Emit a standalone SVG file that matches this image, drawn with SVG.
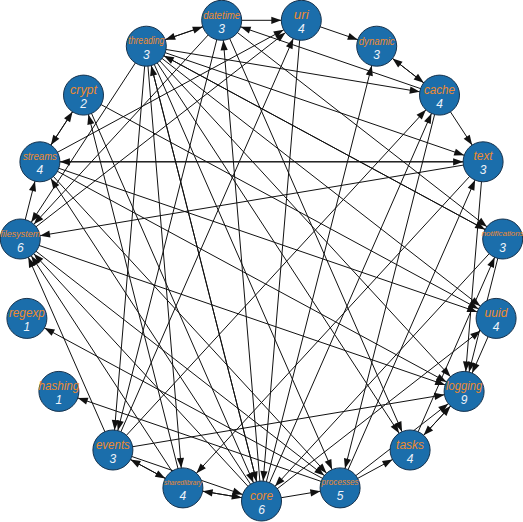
<svg xmlns="http://www.w3.org/2000/svg" width="523" height="522" viewBox="0 0 523 522">
<style>
.e{stroke:#111;stroke-width:1;fill:none;marker-end:url(#ah)}
.n circle{fill:#1b6eab;stroke:#16324d;stroke-width:1}
.nm{font-family:"Liberation Sans",Arial,sans-serif;font-style:italic;fill:#ee8a30;text-anchor:middle;dominant-baseline:central}
.ct{font-family:"Liberation Sans",Arial,sans-serif;font-style:italic;font-size:12px;fill:#eef3fa;text-anchor:middle;dominant-baseline:central}
</style>
<defs>
<marker id="ah" markerUnits="userSpaceOnUse" markerWidth="30" markerHeight="10" viewBox="-30 -5 30 10" refX="0" refY="0" orient="auto" overflow="visible">
<path d="M-20,0 L-30,-3.6 L-30,3.6 Z" fill="#111"/>
</marker>
</defs>
<rect width="523" height="522" fill="#fff"/>
<g id="connectors">
<line class="e" x1="146.3" y1="46.2" x2="221.7" y2="20.3"/>
<line class="e" x1="221.7" y1="20.3" x2="146.3" y2="46.2"/>
<line class="e" x1="221.7" y1="20.3" x2="301.3" y2="20.3"/>
<line class="e" x1="301.3" y1="20.3" x2="376.7" y2="46.2"/>
<line class="e" x1="376.7" y1="46.2" x2="439.5" y2="95.1"/>
<line class="e" x1="439.5" y1="95.1" x2="376.7" y2="46.2"/>
<line class="e" x1="146.3" y1="46.2" x2="439.5" y2="95.1"/>
<line class="e" x1="439.5" y1="95.1" x2="221.7" y2="20.3"/>
<line class="e" x1="146.3" y1="46.2" x2="483.1" y2="161.8"/>
<line class="e" x1="39.9" y1="161.8" x2="483.1" y2="161.8"/>
<line class="e" x1="483.1" y1="161.8" x2="39.9" y2="161.8"/>
<line class="e" x1="483.1" y1="161.8" x2="20.3" y2="239"/>
<line class="e" x1="483.1" y1="161.8" x2="464.1" y2="391.4"/>
<line class="e" x1="83.5" y1="95.1" x2="39.9" y2="161.8"/>
<line class="e" x1="39.9" y1="161.8" x2="83.5" y2="95.1"/>
<line class="e" x1="20.3" y1="239" x2="39.9" y2="161.8"/>
<line class="e" x1="261.5" y1="501" x2="376.7" y2="46.2"/>
<line class="e" x1="261.5" y1="501" x2="439.5" y2="95.1"/>
<line class="e" x1="112.9" y1="450" x2="439.5" y2="95.1"/>
<line class="e" x1="112.9" y1="450" x2="301.3" y2="20.3"/>
<line class="e" x1="261.5" y1="501" x2="221.7" y2="20.3"/>
<line class="e" x1="301.3" y1="20.3" x2="261.5" y2="501"/>
<line class="e" x1="39.9" y1="161.8" x2="301.3" y2="20.3"/>
<line class="e" x1="20.3" y1="239" x2="301.3" y2="20.3"/>
<line class="e" x1="146.3" y1="46.2" x2="20.3" y2="239"/>
<line class="e" x1="146.3" y1="46.2" x2="112.9" y2="450"/>
<line class="e" x1="221.7" y1="20.3" x2="112.9" y2="450"/>
<line class="e" x1="112.9" y1="450" x2="182.9" y2="487.9"/>
<line class="e" x1="182.9" y1="487.9" x2="112.9" y2="450"/>
<line class="e" x1="261.5" y1="501" x2="182.9" y2="487.9"/>
<line class="e" x1="182.9" y1="487.9" x2="261.5" y2="501"/>
<line class="e" x1="146.3" y1="46.2" x2="182.9" y2="487.9"/>
<line class="e" x1="483.1" y1="161.8" x2="182.9" y2="487.9"/>
<line class="e" x1="112.9" y1="450" x2="464.1" y2="391.4"/>
<line class="e" x1="340.1" y1="487.9" x2="26.9" y2="318.4"/>
<line class="e" x1="340.1" y1="487.9" x2="58.9" y2="391.4"/>
<line class="e" x1="261.5" y1="501" x2="340.1" y2="487.9"/>
<line class="e" x1="340.1" y1="487.9" x2="410.1" y2="450"/>
<line class="e" x1="410.1" y1="450" x2="464.1" y2="391.4"/>
<line class="e" x1="464.1" y1="391.4" x2="410.1" y2="450"/>
<line class="e" x1="221.7" y1="20.3" x2="410.1" y2="450"/>
<line class="e" x1="146.3" y1="46.2" x2="410.1" y2="450"/>
<line class="e" x1="439.5" y1="95.1" x2="340.1" y2="487.9"/>
<line class="e" x1="39.9" y1="161.8" x2="496.1" y2="318.4"/>
<line class="e" x1="39.9" y1="161.8" x2="464.1" y2="391.4"/>
<line class="e" x1="261.5" y1="501" x2="39.9" y2="161.8"/>
<line class="e" x1="112.9" y1="450" x2="20.3" y2="239"/>
<line class="e" x1="182.9" y1="487.9" x2="20.3" y2="239"/>
<line class="e" x1="261.5" y1="501" x2="20.3" y2="239"/>
<line class="e" x1="20.3" y1="239" x2="340.1" y2="487.9"/>
<line class="e" x1="340.1" y1="487.9" x2="464.1" y2="391.4"/>
<line class="e" x1="410.1" y1="450" x2="502.7" y2="239"/>
<line class="e" x1="502.7" y1="239" x2="464.1" y2="391.4"/>
<line class="e" x1="496.1" y1="318.4" x2="464.1" y2="391.4"/>
<line class="e" x1="261.5" y1="501" x2="496.1" y2="318.4"/>
<line class="e" x1="83.5" y1="95.1" x2="496.1" y2="318.4"/>
<line class="e" x1="146.3" y1="46.2" x2="496.1" y2="318.4"/>
<line class="e" x1="146.3" y1="46.2" x2="502.7" y2="239"/>
<line class="e" x1="502.7" y1="239" x2="146.3" y2="46.2"/>
<line class="e" x1="221.7" y1="20.3" x2="502.7" y2="239"/>
<line class="e" x1="146.3" y1="46.2" x2="464.1" y2="391.4"/>
<line class="e" x1="20.3" y1="239" x2="464.1" y2="391.4"/>
<line class="e" x1="182.9" y1="487.9" x2="83.5" y2="95.1"/>
<line class="e" x1="39.9" y1="161.8" x2="340.1" y2="487.9"/>
<line class="e" x1="146.3" y1="46.2" x2="340.1" y2="487.9"/>
<line class="e" x1="340.1" y1="487.9" x2="483.1" y2="161.8"/>
<line class="e" x1="83.5" y1="95.1" x2="261.5" y2="501"/>
<line class="e" x1="146.3" y1="46.2" x2="261.5" y2="501"/>
<line class="e" x1="261.5" y1="501" x2="146.3" y2="46.2"/>
<line class="e" x1="502.7" y1="239" x2="261.5" y2="501"/>
<line class="e" x1="112.9" y1="450" x2="261.5" y2="501"/>
<line class="e" x1="439.5" y1="95.1" x2="483.1" y2="161.8"/>
<line class="e" x1="221.7" y1="20.3" x2="20.3" y2="239"/>
</g>
<g id="n-core" class="n"><circle cx="261.5" cy="501" r="20"/><text class="nm" x="261.5" y="495.5" font-size="12.5" textLength="23" lengthAdjust="spacingAndGlyphs">core</text><text class="ct" x="261.5" y="509.5">6</text></g>
<g id="n-processes" class="n"><circle cx="340.1" cy="487.9" r="20"/><text class="nm" x="340.1" y="482.4" font-size="9" textLength="37" lengthAdjust="spacingAndGlyphs">processes</text><text class="ct" x="340.1" y="496.4">5</text></g>
<g id="n-tasks" class="n"><circle cx="410.1" cy="450" r="20"/><text class="nm" x="410.1" y="444.5" font-size="12.5" textLength="28" lengthAdjust="spacingAndGlyphs">tasks</text><text class="ct" x="410.1" y="458.5">4</text></g>
<g id="n-logging" class="n"><circle cx="464.1" cy="391.4" r="20"/><text class="nm" x="464.1" y="385.9" font-size="12" textLength="36" lengthAdjust="spacingAndGlyphs">logging</text><text class="ct" x="464.1" y="399.9">9</text></g>
<g id="n-uuid" class="n"><circle cx="496.1" cy="318.4" r="20"/><text class="nm" x="496.1" y="312.9" font-size="12.5" textLength="23" lengthAdjust="spacingAndGlyphs">uuid</text><text class="ct" x="496.1" y="326.9">4</text></g>
<g id="n-notifications" class="n"><circle cx="502.7" cy="239" r="20"/><text class="nm" x="502.7" y="233.5" font-size="8" textLength="42" lengthAdjust="spacingAndGlyphs">notifications</text><text class="ct" x="502.7" y="247.5">3</text></g>
<g id="n-text" class="n"><circle cx="483.1" cy="161.8" r="20"/><text class="nm" x="483.1" y="156.3" font-size="12.5" textLength="19" lengthAdjust="spacingAndGlyphs">text</text><text class="ct" x="483.1" y="170.3">3</text></g>
<g id="n-cache" class="n"><circle cx="439.5" cy="95.1" r="20"/><text class="nm" x="439.5" y="89.6" font-size="12.5" textLength="31" lengthAdjust="spacingAndGlyphs">cache</text><text class="ct" x="439.5" y="103.6">4</text></g>
<g id="n-dynamic" class="n"><circle cx="376.7" cy="46.2" r="20"/><text class="nm" x="376.7" y="40.7" font-size="10.5" textLength="36" lengthAdjust="spacingAndGlyphs">dynamic</text><text class="ct" x="376.7" y="54.7">3</text></g>
<g id="n-uri" class="n"><circle cx="301.3" cy="20.3" r="20"/><text class="nm" x="301.3" y="14.8" font-size="12.5" textLength="15" lengthAdjust="spacingAndGlyphs">uri</text><text class="ct" x="301.3" y="28.8">4</text></g>
<g id="n-datetime" class="n"><circle cx="221.7" cy="20.3" r="20"/><text class="nm" x="221.7" y="14.8" font-size="10.5" textLength="37" lengthAdjust="spacingAndGlyphs">datetime</text><text class="ct" x="221.7" y="28.8">3</text></g>
<g id="n-threading" class="n"><circle cx="146.3" cy="46.2" r="20"/><text class="nm" x="146.3" y="40.7" font-size="10" textLength="36" lengthAdjust="spacingAndGlyphs">threading</text><text class="ct" x="146.3" y="54.7">3</text></g>
<g id="n-crypt" class="n"><circle cx="83.5" cy="95.1" r="20"/><text class="nm" x="83.5" y="89.6" font-size="12.5" textLength="27" lengthAdjust="spacingAndGlyphs">crypt</text><text class="ct" x="83.5" y="103.6">2</text></g>
<g id="n-streams" class="n"><circle cx="39.9" cy="161.8" r="20"/><text class="nm" x="39.9" y="156.3" font-size="10.5" textLength="34" lengthAdjust="spacingAndGlyphs">streams</text><text class="ct" x="39.9" y="170.3">4</text></g>
<g id="n-filesystem" class="n"><circle cx="20.3" cy="239" r="20"/><text class="nm" x="20.3" y="233.5" font-size="9.5" textLength="40" lengthAdjust="spacingAndGlyphs">filesystem</text><text class="ct" x="20.3" y="247.5">6</text></g>
<g id="n-regexp" class="n"><circle cx="26.9" cy="318.4" r="20"/><text class="nm" x="26.9" y="312.9" font-size="12" textLength="36" lengthAdjust="spacingAndGlyphs">regexp</text><text class="ct" x="26.9" y="326.9">1</text></g>
<g id="n-hashing" class="n"><circle cx="58.9" cy="391.4" r="20"/><text class="nm" x="58.9" y="385.9" font-size="12" textLength="41" lengthAdjust="spacingAndGlyphs">hashing</text><text class="ct" x="58.9" y="399.9">1</text></g>
<g id="n-events" class="n"><circle cx="112.9" cy="450" r="20"/><text class="nm" x="112.9" y="444.5" font-size="12.5" textLength="34" lengthAdjust="spacingAndGlyphs">events</text><text class="ct" x="112.9" y="458.5">3</text></g>
<g id="n-sharedlibrary" class="n"><circle cx="182.9" cy="487.9" r="20"/><text class="nm" x="182.9" y="482.4" font-size="7" textLength="38" lengthAdjust="spacingAndGlyphs">sharedlibrary</text><text class="ct" x="182.9" y="496.4">4</text></g>
</svg>
